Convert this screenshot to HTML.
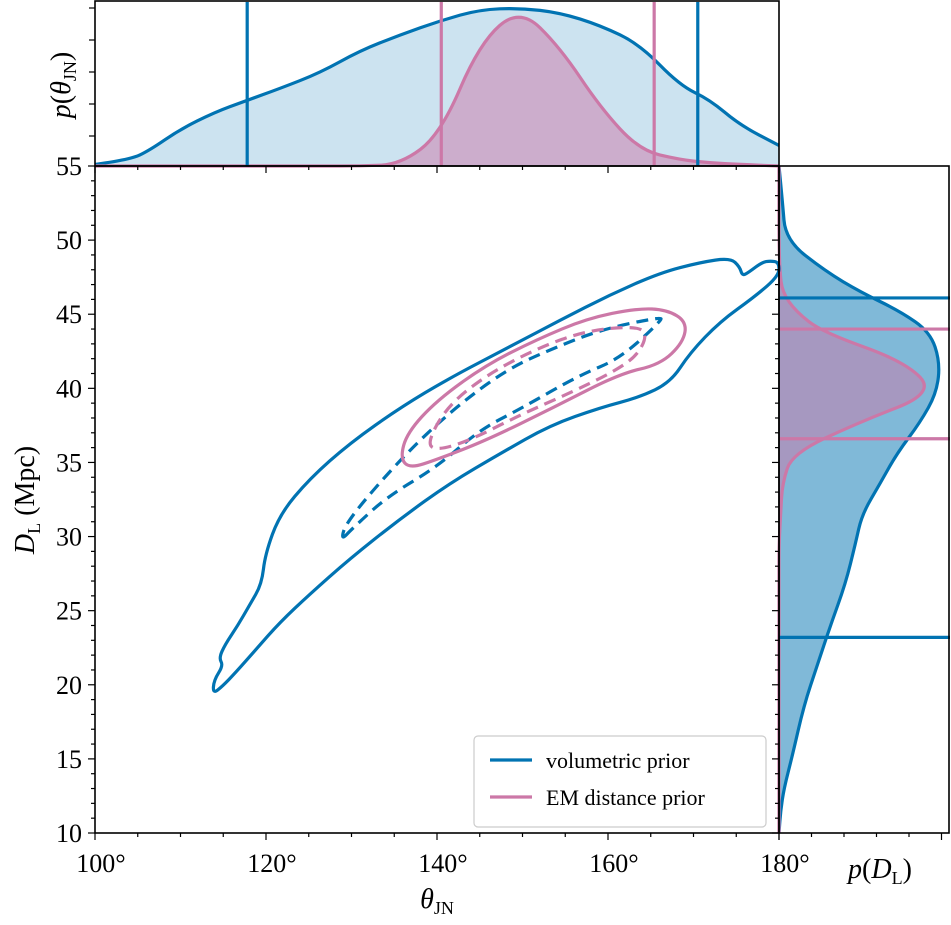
<!DOCTYPE html>
<html><head><meta charset="utf-8">
<style>
html,body{margin:0;padding:0;background:#fff;}
svg{display:block;font-family:"Liberation Serif","DejaVu Serif",serif;}
</style></head>
<body>
<svg id="chart" width="951" height="925" viewBox="0 0 951 925" xmlns="http://www.w3.org/2000/svg" style="position:absolute;left:0;top:0;">
<g id="fills"></g>
<g id="marks"></g>
<g id="axes"></g>
<g id="legend">
  <rect x="474" y="736" width="292" height="91" rx="4" fill="#fff" fill-opacity="0.85" stroke="#ccc" stroke-width="1.2"/>
  <line x1="490" y1="760" x2="532" y2="760" stroke="#0173b2" stroke-width="3.2"/>
  <text x="546" y="768" font-size="22">volumetric prior</text>
  <line x1="490" y1="797" x2="532" y2="797" stroke="#cc78a7" stroke-width="3.2"/>
  <text x="546" y="805" font-size="22">EM distance prior</text>
</g>
<text x="437" y="908" font-size="28" text-anchor="middle"><tspan font-style="italic">θ</tspan><tspan font-size="18" dy="6">JN</tspan></text>
<text transform="translate(34,500) rotate(-90)" font-size="28" text-anchor="middle"><tspan font-style="italic">D</tspan><tspan font-size="18" dy="6">L</tspan><tspan dy="-6"> (Mpc)</tspan></text>
<text transform="translate(70,85) rotate(-90)" font-size="28" text-anchor="middle"><tspan font-style="italic">p</tspan>(<tspan font-style="italic">θ</tspan><tspan font-size="18" dy="6">JN</tspan><tspan dy="-6">)</tspan></text>
<text x="880" y="878" font-size="28" text-anchor="middle"><tspan font-style="italic">p</tspan>(<tspan font-style="italic">D</tspan><tspan font-size="18" dy="6">L</tspan><tspan dy="-6">)</tspan></text>
</svg>
<script>
// ---- data ----
const blueOuterTheta=[113.8,114.9,116.4,118.7,121.6,125.1,129.8,135.7,141.5,147.4,153.2,159.1,163.7,167.3,169.6,173.1,177.2,180,180,179,178,176.4,175.7,175.4,174.3,170.8,166.1,160.2,154.4,148.5,141.5,135.7,129.8,125.1,121.6,119.9,119.5,118.1,116.7,115.2,114.5,115.0,113.9];
const blueOuterD=[19.4,19.9,20.8,22.3,24.2,26.1,28.5,31.2,33.6,35.6,37.5,38.7,39.4,40.4,42.4,44.5,46.2,47.6,48.5,48.6,48.5,47.8,47.6,48.2,48.8,48.5,47.8,46.3,44.6,42.8,40.7,38.7,36.3,33.9,31.5,28.8,26.8,25.4,24.0,22.7,21.8,21.3,20.3];
const blueInnerTheta=[128.7,129.5,136.0,141.9,148.2,153.6,159.4,166.1,166.3,161.4,156.7,149.7,145.0,140.0,134.2,130.2];
const blueInnerD=[29.7,31.1,35.4,38.6,41.3,42.7,44.0,44.8,44.6,42.0,40.9,38.6,37.2,34.7,32.7,30.6];
const pinkOuterTheta=[135.7,136.5,140.0,145.8,151.7,157.5,163.4,166.9,169.2,168.8,166.1,161.4,153.6,145.8,140.0,136.8];
const pinkOuterD=[35.3,37.0,39.2,41.6,43.3,44.7,45.4,45.3,44.5,43.1,41.6,41.0,38.7,36.5,35.2,34.6];
const pinkInnerTheta=[138.8,141.2,145.8,151.7,157.5,163.4,164.6,163.4,160.6,155.6,149.7,143.9,140.0];
const pinkInnerD=[36.3,38.8,40.9,42.7,43.9,44.2,43.6,42.2,41.1,39.7,38.2,36.5,35.8];
const topTheta=[100,104.1,106.4,109.9,114.0,117.5,121.6,126.3,131.0,135.7,140.4,145.0,149.7,154.4,159.1,163.7,168.4,171.9,175.4,180];
const topBlue=[0.01,0.04,0.10,0.23,0.34,0.41,0.49,0.59,0.73,0.83,0.92,0.99,1.0,0.97,0.89,0.77,0.51,0.42,0.26,0.13];
const topPink=[0,0,0,0,0,0,0,0,0,0.01,0.2,0.78,1.0,0.75,0.37,0.1,0.04,0.02,0.01,0];
const thetaBlueBounds=[117.8,170.5];
const thetaPinkBounds=[140.5,165.4];
const rightD=[55,52.7,50.0,47.9,46.5,45.2,43.8,41.8,39.7,37.7,35.6,33.6,31.5,29.5,26.8,24.0,21.3,18.6,15.2,13.0,11.5,10];
const rightBlue=[0,0.02,0.04,0.28,0.49,0.73,0.91,0.97,0.95,0.85,0.71,0.61,0.50,0.46,0.40,0.31,0.23,0.15,0.08,0.03,0.01,0];
const rightPink=[0,0,0,0.005,0.02,0.1,0.26,0.76,0.94,0.48,0.08,0.02,0.01,0,0,0,0,0,0,0,0,0];
const dBlueBounds=[46.1,23.2];
const dPinkBounds=[44.0,36.6];
const xTicks=[100,120,140,160,180];
const xTickLabels=["100°","120°","140°","160°","180°"];
const yTicks=[10,15,20,25,30,35,40,45,50,55];
const yTickLabels=["10","15","20","25","30","35","40","45","50","55"];

// ---- scales ----
const L=95,R=779,T=166,B=833;
const x=t=>L+(t-100)*(R-L)/80;
const y=d=>T+(55-d)*(B-T)/45;
const ty=v=>166-v*158;
const rx=v=>779+v*166;
const NS="http://www.w3.org/2000/svg";
const BLUE="#0173b2",PINK="#cc78a7";
function mk(tag,attrs,parent){const e=document.createElementNS(NS,tag);for(const k in attrs)e.setAttribute(k,attrs[k]);parent.appendChild(e);return e;}
function smoothClosed(px,py){const n=px.length;let s="";for(let i=0;i<n;i++){const j=(i+1)%n;const mx=(px[i]+px[j])/2,my=(py[i]+py[j])/2;if(i===0){const pm=((px[n-1]+px[0])/2),pmy=((py[n-1]+py[0])/2);s+="M"+pm+","+pmy;}s+=" Q"+px[i]+","+py[i]+" "+mx+","+my;}return s+"Z";}
function smoothOpen(px,py){let s="M"+px[0]+","+py[0];for(let i=1;i<px.length-1;i++){const mx=(px[i]+px[i+1])/2,my=(py[i]+py[i+1])/2;s+=" Q"+px[i]+","+py[i]+" "+mx+","+my;}s+=" L"+px[px.length-1]+","+py[py.length-1];return s;}
const fills=document.getElementById('fills'),marks=document.getElementById('marks'),axes=document.getElementById('axes');

// top marginal
const tpx=topTheta.map(x);
const tbY=topBlue.map(ty),tpY=topPink.map(ty);
let e=mk('path',{d:smoothOpen(tpx,tbY)+" L779,166 L95,166Z",fill:BLUE,"fill-opacity":0.2,stroke:"none"},fills);


e=mk('path',{d:smoothOpen(tpx,tpY)+" L779,166 L95,166Z",fill:PINK,"fill-opacity":0.5,stroke:"none"},fills);


e=mk('path',{d:smoothOpen(tpx,tbY),fill:"none",stroke:BLUE,"stroke-width":3.2},marks);


e=mk('path',{d:smoothOpen(tpx,tpY),fill:"none",stroke:PINK,"stroke-width":3.2},marks);


thetaBlueBounds.forEach(t=>{const l=mk('line',{x1:x(t),x2:x(t),y1:2,y2:166,stroke:BLUE,"stroke-width":3.2},marks);

});
thetaPinkBounds.forEach(t=>{const l=mk('line',{x1:x(t),x2:x(t),y1:2,y2:166,stroke:PINK,"stroke-width":3.2},marks);

});

// right marginal
const rpy=rightD.map(y);
const rbX=rightBlue.map(rx),rpX=rightPink.map(rx);
e=mk('path',{d:smoothOpen(rbX,rpy)+" L779,"+B+" L779,166Z",fill:BLUE,"fill-opacity":0.5,stroke:"none"},fills);


e=mk('path',{d:smoothOpen(rpX,rpy)+" L779,"+B+" L779,166Z",fill:PINK,"fill-opacity":0.5,stroke:"none"},fills);


e=mk('path',{d:smoothOpen(rbX,rpy),fill:"none",stroke:BLUE,"stroke-width":3.2},marks);


e=mk('path',{d:smoothOpen(rpX,rpy),fill:"none",stroke:PINK,"stroke-width":3.2},marks);


dBlueBounds.forEach(d=>{const l=mk('line',{x1:779,x2:950,y1:y(d),y2:y(d),stroke:BLUE,"stroke-width":3.2},marks);

});
dPinkBounds.forEach(d=>{const l=mk('line',{x1:779,x2:950,y1:y(d),y2:y(d),stroke:PINK,"stroke-width":3.2},marks);

});

// contours
function contour(th,dd,col,dash,name){const c=mk('path',{d:smoothClosed(th.map(x),dd.map(y)),fill:"none",stroke:col,"stroke-width":3.2,"stroke-linejoin":"round"},marks);
if(dash)c.setAttribute('stroke-dasharray','12,7');

}
contour(blueOuterTheta,blueOuterD,BLUE,false,'volumetric-90-contour');
contour(blueInnerTheta,blueInnerD,BLUE,true,'volumetric-50-contour');
contour(pinkOuterTheta,pinkOuterD,PINK,false,'em-90-contour');
contour(pinkInnerTheta,pinkInnerD,PINK,true,'em-50-contour');

// frames
[[95,1,684,165,'top-panel-frame'],[95,166,684,B-166,'main-panel-frame'],[779,166,170,B-166,'right-panel-frame']].forEach(f=>{const r=mk('rect',{x:f[0],y:f[1],width:f[2],height:f[3],fill:"none",stroke:"#000","stroke-width":1.6},axes);

});
// x ticks main
for(let t=100;t<=180;t+=5){const maj=(t%20===0);mk('line',{x1:x(t),x2:x(t),y1:B,y2:B+(maj?7:4),stroke:"#000","stroke-width":1.2},axes);
mk('line',{x1:x(t),x2:x(t),y1:166,y2:166+(maj?7:4),stroke:"#000","stroke-width":1.2},axes);}
// right panel bottom ticks
for(let i=0;i<6;i++){mk('line',{x1:779+i*32.5,x2:779+i*32.5,y1:B,y2:B+(i===0||i===5?7:4),stroke:"#000","stroke-width":1.2},axes);}
xTicks.forEach((t,i)=>{const tx=mk('text',{x:x(t)+6,y:872,"font-size":26,"text-anchor":"middle"},axes);tx.textContent=xTickLabels[i];

});
// y ticks main
for(let d=10;d<=55;d++){const maj=(d%5===0);const yy=y(d);mk('line',{x1:95,x2:95-(maj?7:4),y1:yy,y2:yy,stroke:"#000","stroke-width":1.2},axes);
mk('line',{x1:779,x2:779-(maj?7:4),y1:yy,y2:yy,stroke:"#000","stroke-width":1.2},axes);}
yTicks.forEach((d,i)=>{const tx=mk('text',{x:82,y:y(d)+9,"font-size":26,"text-anchor":"end"},axes);tx.textContent=yTickLabels[i];

});
// top panel y ticks
[8,40,72,104,136].forEach(v=>mk('line',{x1:95,x2:89,y1:v,y2:v,stroke:"#000","stroke-width":1.2},axes));
</script>
</body></html>
